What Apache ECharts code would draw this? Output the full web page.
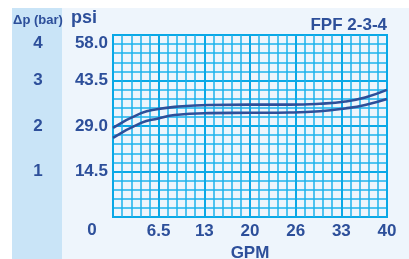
<!DOCTYPE html>
<html>
<head>
<meta charset="utf-8">
<script src="https://cdn.jsdelivr.net/npm/echarts@6/dist/echarts.min.js"></script>
<style>
  html, body { margin: 0; padding: 0; background: #fff; }
  #chart { width: 409px; height: 259px; }
</style>
</head>
<body>
<div id="chart"></div>
<script>
// flow (GPM) and pressure drop (psi)
var gpm   = [0, 4.1, 6.6, 9, 13.9, 20, 25.8, 30.2, 33.9, 36.8, 40];
var upper = [28.4, 33.1, 34.4, 35.1, 35.7, 35.8, 35.8, 36.1, 36.8, 38.1, 40.5];
var lower = [25.2, 30.0, 31.4, 32.5, 33.1, 33.2, 33.3, 33.7, 34.6, 35.7, 37.6];
var xTickLabels = ['0', '6.5', '13', '20', '26', '33', '40'];
var psiTicks = ['0', '14.5', '29.0', '43.5', '58.0'];
var barTicks = ['0', '1', '2', '3', '4'];

var ink = '#2d4f9a';
var minor = '#1cb2ec';
var major = '#0aa8e6';
var font = 'Liberation Sans';

function pair(ys) {
  return gpm.map(function (x, i) { return [x, ys[i]]; });
}

var chart = echarts.init(document.getElementById('chart'));
chart.setOption({
  animation: false,
  backgroundColor: '#ffffff',
  graphic: [
    { type: 'rect', z: -10, shape: { x: 12, y: 8, width: 397, height: 251 }, style: { fill: '#eef5fc' } },
    { type: 'rect', z: -9, shape: { x: 12, y: 8, width: 50, height: 251 }, style: { fill: '#c9e4f7' } },
    { type: 'text', x: 38, y: 20, style: { text: 'Δp (bar)', fill: ink, font: 'bold 13px ' + font, align: 'center', verticalAlign: 'middle' } },
    { type: 'text', x: 84, y: 18, style: { text: 'psi', fill: ink, font: 'bold 18px ' + font, align: 'center', verticalAlign: 'middle' } },
    { type: 'text', x: 387, y: 25, style: { text: 'FPF 2-3-4', fill: ink, font: 'bold 17px ' + font, align: 'right', verticalAlign: 'middle' } },
    { type: 'text', x: 92, y: 230, style: { text: psiTicks[0], fill: ink, font: 'bold 17px ' + font, align: 'center', verticalAlign: 'middle' } }
  ],
  grid: { left: 113, right: 22, top: 35, bottom: 42, outerBoundsMode: 'none', containLabel: false,
    show: true, borderColor: major, borderWidth: 2, backgroundColor: 'transparent' },
  xAxis: [
    { type: 'value', position: 'bottom', min: 0, max: 40, interval: 4 / 3,
      axisLine: { show: false }, axisTick: { show: false }, axisLabel: { show: false },
      splitLine: { show: true, lineStyle: { color: minor, width: 1.5 } } },
    { type: 'value', position: 'bottom', min: 0, max: 40, interval: 40 / 6,
      name: 'GPM', nameLocation: 'middle', nameGap: 24,
      nameTextStyle: { color: ink, fontFamily: font, fontWeight: 'bold', fontSize: 17 },
      axisLine: { show: false }, axisTick: { show: false },
      axisLabel: { color: ink, fontFamily: font, fontWeight: 'bold', fontSize: 17, margin: 6,
        formatter: function (v) { var i = Math.round(v / (40 / 6)); return i === 0 ? '' : xTickLabels[i]; } },
      splitLine: { show: true, lineStyle: { color: major, width: 2 } } }
  ],
  yAxis: [
    { type: 'value', position: 'left', min: 0, max: 58, interval: 2.9,
      axisLine: { show: false }, axisTick: { show: false }, axisLabel: { show: false },
      splitLine: { show: true, lineStyle: { color: minor, width: 1.5 } } },
    { type: 'value', position: 'left', min: 0, max: 58, interval: 14.5,
      axisLine: { show: false }, axisTick: { show: false },
      axisLabel: { color: ink, fontFamily: font, fontWeight: 'bold', fontSize: 17, margin: 5,
        verticalAlignMaxLabel: 'top',
        formatter: function (v) { var i = Math.round(v / 14.5); return i === 0 ? '' : psiTicks[i]; } },
      splitLine: { show: true, lineStyle: { color: major, width: 2 } } },
    { type: 'value', position: 'left', min: 0, max: 4, interval: 1,
      axisLine: { show: false }, axisTick: { show: false }, splitLine: { show: false },
      axisLabel: { color: ink, fontFamily: font, fontWeight: 'bold', fontSize: 17, margin: 75, align: 'center',
        verticalAlignMaxLabel: 'top',
        formatter: function (v) { var i = Math.round(v); return i === 0 ? '' : barTicks[i]; } } }
  ],
  series: [
    { type: 'line', xAxisIndex: 0, yAxisIndex: 0, data: pair(upper), smooth: true,
      showSymbol: false, z: 5, lineStyle: { color: ink, width: 2.6 } },
    { type: 'line', xAxisIndex: 0, yAxisIndex: 0, data: pair(lower), smooth: true,
      showSymbol: false, z: 5, lineStyle: { color: ink, width: 2.6 } }
  ]
});
</script>
</body>
</html>
